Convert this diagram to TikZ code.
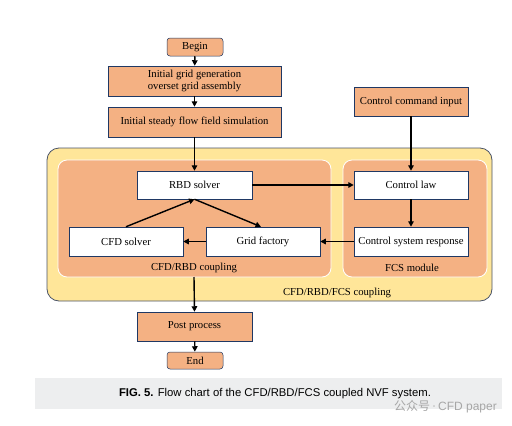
\documentclass[tikz,border=0pt]{standalone}
\usepackage{fontspec}
\setmainfont{Liberation Serif}
\newfontfamily\seriffont{Liberation Serif}
\newfontfamily\capfont{Liberation Sans}
\newfontfamily\cjkfont{Noto Sans CJK SC}
\usetikzlibrary{arrows.meta}
\definecolor{boxorange}{HTML}{F4B183}
\definecolor{outeryellow}{HTML}{FFE699}
\definecolor{navy}{HTML}{1F3864}
\definecolor{outerline}{HTML}{4A5468}
\definecolor{capgray}{HTML}{EDEEEF}
\tikzset{
  px/.style={x=1pt,y=-1pt},
  obox/.style={draw=navy,line width=0.5pt,fill=boxorange,inner sep=0pt,font=\seriffont\fontsize{10.7}{12}\selectfont,align=center},
  wbox/.style={draw=navy,line width=0.5pt,fill=white,inner sep=0pt,font=\seriffont\fontsize{10.7}{12}\selectfont,align=center},
  term/.style={obox,rounded corners=3pt},
  region/.style={draw=white,line width=0.8pt,fill=boxorange,rounded corners=9pt},
  lbl/.style={font=\seriffont\fontsize{10.7}{12}\selectfont,inner sep=0pt},
  arr/.style={-{Triangle[length=5.5pt,width=5.5pt]},line width=1.4pt,black},
}
\begin{document}
\begin{tikzpicture}[px]
\useasboundingbox (0,0) rectangle (512,426);
\fill[white] (0,0) rectangle (512,426);
% outer coupling
\draw[draw=outerline,line width=0.8pt,fill=outeryellow,rounded corners=12pt] (47,148) rectangle (492,301);
\draw[region] (58,160) rectangle (331,277);
\draw[region] (343,160) rectangle (487,277);
\node[lbl] (lcfdrbd) at (194,268) {CFD/RBD coupling};
\node[lbl] (lfcs) at (412,268) {FCS module};
\node[lbl] (lall) at (337,293) {CFD/RBD/FCS coupling};
\coordinate (regbot) at (194,277);
% top flow
\node[term,minimum width=56pt,minimum height=18pt] (begin) at (195,47) {Begin};
\node[obox,minimum width=173pt,minimum height=30pt] (grid) at (194.5,81) {Initial grid generation\\overset grid assembly};
\node[obox,minimum width=173pt,minimum height=30pt] (steady) at (194.5,122) {Initial steady flow field simulation};
\node[obox,minimum width=114pt,minimum height=29pt] (cmd) at (411,101.5) {Control command input};
% inner boxes
\node[wbox,minimum width=115pt,minimum height=28pt] (rbd) at (194.5,185) {RBD solver};
\node[wbox,minimum width=114pt,minimum height=28pt] (law) at (411,185) {Control law};
\node[wbox,minimum width=114pt,minimum height=29pt] (cfd) at (126,241.5) {CFD solver};
\node[wbox,minimum width=114pt,minimum height=29pt] (gf) at (263,241.5) {Grid factory};
\node[wbox,minimum width=114pt,minimum height=29pt] (csr) at (411,241.5) {Control system response};
% bottom flow
\node[obox,minimum width=115pt,minimum height=29pt] (post) at (194.5,326.5) {Post process};
\node[term,minimum width=56pt,minimum height=17pt] (end) at (195,360.5) {End};
% arrows
\draw[arr] (begin) -- (grid);
\draw[arr] (grid) -- (steady);
\draw[arr] (steady.south) -- (rbd.north);
\draw[arr] (cmd) -- (law);
\draw[arr] (rbd) -- (law);
\draw[arr] (law) -- (csr);
\draw[arr] (csr) -- (gf);
\draw[arr] (gf) -- (cfd);
\draw[arr] (cfd.north) -- (rbd.south);
\draw[arr] (rbd.south) -- ([xshift=-2pt]gf.north);
\draw[arr] (regbot) -- (post.north);
\draw[arr] (post) -- (end);
% caption
\fill[capgray] (35,378) rectangle (502,409);
\node[inner sep=0pt,font=\capfont\fontsize{11.3}{13}\selectfont] (cap) at (275,394) {\textbf{FIG. 5.} Flow chart of the CFD/RBD/FCS coupled NVF system.};
\node[inner sep=0pt,text=black!35,font=\fontsize{12}{14}\selectfont,anchor=east] (wm) at (497,407) {{\cjkfont 公众号}\,·\,{\capfont CFD paper}};
\end{tikzpicture}
\end{document}
